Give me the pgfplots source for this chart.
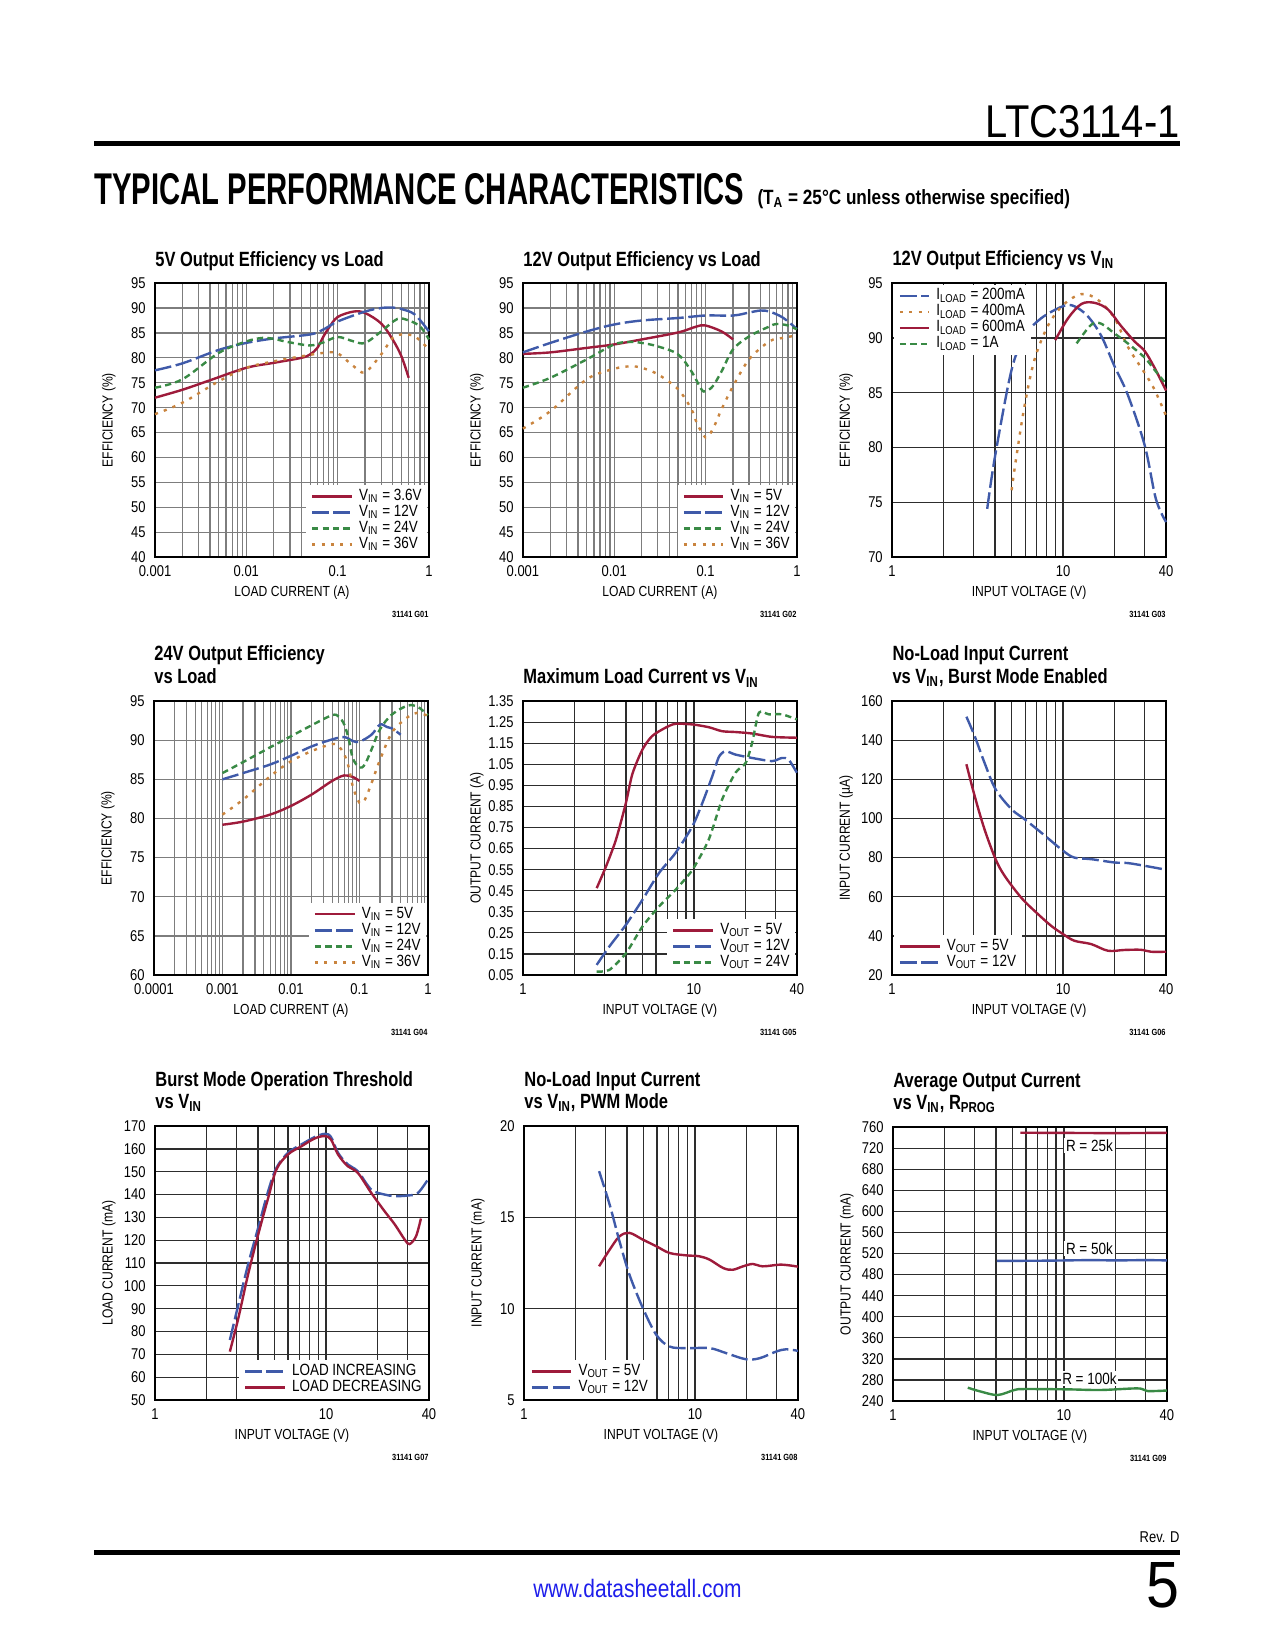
\documentclass[border=0pt]{standalone}
\usepackage{fontspec}
\usepackage{graphicx}
\usepackage{pgfplots}
\pgfplotsset{compat=1.18}
\setmainfont{Liberation Sans}[FakeStretch=0.83]
\newfontfamily\nf{Liberation Sans}[FakeStretch=0.83]
\newfontfamily\tf{Liberation Sans}[FakeStretch=0.8]
\newcommand\tk{\nf\fontsize{7bp}{8bp}\selectfont}
\newcommand\tkl{\nf\fontsize{7.5bp}{8.5bp}\selectfont}
\newcommand\lgf{\nf\fontsize{7.8bp}{8.5bp}\selectfont}
\newcommand\ttl{\tf\bfseries\fontsize{9.9bp}{11bp}\selectfont}
\newcommand\gf{\nf\bfseries\fontsize{4.3bp}{5bp}\selectfont}
\definecolor{cred}{RGB}{158,27,59}
\definecolor{cblue}{RGB}{63,90,169}
\definecolor{cgreen}{RGB}{57,138,69}
\definecolor{corange}{RGB}{201,132,62}
\definecolor{gridg}{RGB}{125,125,125}
\definecolor{gridk}{RGB}{45,45,45}
\definecolor{urlblue}{RGB}{30,30,235}
\tikzset{
 sred/.style={draw=cred, solid},
 sblue/.style={draw=cblue, dash pattern=on 8bp off 2.2bp},
 sgreen/.style={draw=cgreen, dash pattern=on 3bp off 2bp},
 sorange/.style={draw=corange, dash pattern=on 1.5bp off 3bp},
}
\pgfplotsset{
 ltc/.style={
  scale only axis, width=131.5bp, height=131.5bp,
  anchor=south west, clip=false,
  axis line style={line width=0.75bp, black},
  grid=both,
  major tick length=0pt, minor tick length=0pt,
  tick label style={font=\tkl},
  xticklabel style={yshift=-0.6bp},
  yticklabel style={xshift=-1bp},
  label style={font=\tk},
  xlabel style={at={(axis description cs:0.5,-0.13)},anchor=center},
  ylabel style={at={(axis description cs:-0.168,0.5)},anchor=center},
  legend cell align=left,
  legend style={draw=none, fill=white, font=\lgf, inner xsep=2.5bp, inner ysep=1.5bp,
     nodes={inner sep=0.3bp, text height=5.5bp, text depth=1.6bp}, row sep=0pt,
     /tikz/every odd column/.append style={column sep=2.6bp}},
  legend image code/.code={\draw[##1, line width=1.15bp] (0bp,0bp) -- (19bp,0bp);},
  every axis plot/.append style={line width=1.15bp, smooth, tension=0.55},
 },
 gg/.style={major grid style={line width=0.6bp, draw=gridg}, minor grid style={line width=0.6bp, draw=gridg}},
 gk/.style={major grid style={line width=0.6bp, draw=gridk}, minor grid style={line width=0.6bp, draw=gridk}},
}
\begin{document}
\begin{tikzpicture}
\path[use as bounding box, fill=white] (0,0) rectangle (612bp,-792bp);
% header
\node[anchor=base east, inner sep=0] at (566.4bp,-65.8bp) {\resizebox{93bp}{15.4bp}{\nf LTC3114-1}};
\fill[black] (45.1bp,-67.7bp) rectangle (566.4bp,-70.2bp);
\node[anchor=base west, inner sep=0] at (45.1bp,-98.3bp) {\resizebox{312bp}{14.9bp}{\nf\bfseries TYPICAL PERFORMANCE CHARACTERISTICS}};
\node[anchor=base west, inner sep=0] at (363.4bp,-98.3bp) {\resizebox{150bp}{!}{\nf\bfseries\fontsize{10bp}{12bp}\selectfont (T\textsubscript{A} = 25°C unless otherwise specified)}};
% footer
\node[anchor=base east, inner sep=0, font=\nf\fontsize{7.5bp}{9bp}\selectfont] at (566.4bp,-740.6bp) {Rev. D};
\fill[black] (45.1bp,-744bp) rectangle (566.4bp,-746.5bp);
\node[anchor=base, inner sep=0, text=urlblue] at (306bp,-766.6bp) {\resizebox{100bp}{!}{\nf\fontsize{12.5bp}{14bp}\selectfont www.datasheetall.com}};
\node[anchor=base east, inner sep=0] at (566.4bp,-771.8bp) {\resizebox{15.8bp}{21.6bp}{\nf 5}};

% ---------- P1
\begin{axis}[ltc, gg, at={(74.4bp,-267.4bp)},
 xmode=log, xmin=0.001, xmax=1, ymin=40, ymax=95,
 xtick={0.001,0.01,0.1,1}, xticklabels={0.001,0.01,0.1,1},
 minor xtick={0.002,0.003,0.004,0.005,0.006,0.007,0.008,0.009,0.02,0.03,0.04,0.05,0.06,0.07,0.08,0.09,0.2,0.3,0.4,0.5,0.6,0.7,0.8,0.9},
 xlabel={LOAD CURRENT (A)}, ylabel={EFFICIENCY (\%)},
 ytick={40,45,...,95}, yticklabels={40,45,50,55,60,65,70,75,80,85,90,95},
 legend style={at={(1,0)}, anchor=south east, xshift=-0.5bp, yshift=0.5bp}]
\addplot[sred] coordinates {(0.001,72.0) (0.002,73.6) (0.004,75.5) (0.01,78.0) (0.02,79.0) (0.04,80.0) (0.05,80.7) (0.06,82.0) (0.07,84.3) (0.08,86.0) (0.1,88.2) (0.15,89.3) (0.2,89.0) (0.3,86.9) (0.4,83.7) (0.5,80.3) (0.6,76.0)};
\addlegendentry{V\textsubscript{IN} = 3.6V}
\addplot[sblue] coordinates {(0.001,77.5) (0.002,78.9) (0.005,81.6) (0.01,83.0) (0.02,83.9) (0.05,84.7) (0.07,85.7) (0.1,87.3) (0.2,89.3) (0.3,90.0) (0.4,90.1) (0.5,89.8) (0.7,88.7) (1,85.3)};
\addlegendentry{V\textsubscript{IN} = 12V}
\addplot[sgreen] coordinates {(0.001,74.0) (0.002,75.7) (0.005,81.0) (0.01,83.3) (0.015,84.0) (0.02,83.8) (0.03,83.1) (0.05,82.5) (0.07,83.1) (0.1,84.2) (0.15,83.3) (0.2,83.0) (0.3,85.3) (0.45,87.8) (0.6,87.5) (0.8,86.3) (1,83.7)};
\addlegendentry{V\textsubscript{IN} = 24V}
\addplot[sorange] coordinates {(0.001,68.7) (0.002,71.0) (0.005,75.3) (0.01,78.0) (0.02,79.3) (0.04,80.3) (0.07,81.0) (0.1,80.9) (0.15,78.3) (0.2,77.1) (0.3,80.7) (0.4,84.0) (0.5,84.7) (0.7,84.3) (1,81.7)};
\addlegendentry{V\textsubscript{IN} = 36V}
\node[anchor=base west, inner sep=0, font=\ttl, yshift=7.8bp] at (rel axis cs:0,1) {5V Output Efficiency vs Load};
\node[anchor=base east, inner sep=0, font=\gf, yshift=-29bp] at (rel axis cs:1,0) {31141 G01};
\end{axis}

% ---------- P2
\begin{axis}[ltc, gg, at={(251bp,-267.4bp)},
 xmode=log, xmin=0.001, xmax=1, ymin=40, ymax=95,
 xtick={0.001,0.01,0.1,1}, xticklabels={0.001,0.01,0.1,1},
 minor xtick={0.002,0.003,0.004,0.005,0.006,0.007,0.008,0.009,0.02,0.03,0.04,0.05,0.06,0.07,0.08,0.09,0.2,0.3,0.4,0.5,0.6,0.7,0.8,0.9},
 xlabel={LOAD CURRENT (A)}, ylabel={EFFICIENCY (\%)},
 ytick={40,45,...,95}, yticklabels={40,45,50,55,60,65,70,75,80,85,90,95},
 legend style={at={(1,0)}, anchor=south east, xshift=-0.5bp, yshift=0.5bp}]
\addplot[sred] coordinates {(0.001,80.8) (0.002,81.1) (0.005,82.0) (0.01,82.7) (0.02,83.7) (0.05,85.1) (0.08,86.3) (0.1,86.5) (0.15,85.3) (0.2,83.7)};
\addlegendentry{V\textsubscript{IN} = 5V}
\addplot[sblue] coordinates {(0.001,81.1) (0.002,83.0) (0.005,85.3) (0.01,86.7) (0.02,87.5) (0.05,88.0) (0.1,88.5) (0.2,88.5) (0.3,89.1) (0.4,89.5) (0.5,89.3) (0.7,88.1) (1,85.8)};
\addlegendentry{V\textsubscript{IN} = 12V}
\addplot[sgreen] coordinates {(0.001,74.0) (0.002,76.0) (0.005,79.7) (0.01,82.7) (0.015,83.2) (0.02,83.0) (0.03,82.3) (0.05,80.7) (0.07,77.3) (0.09,73.7) (0.1,73.3) (0.12,74.3) (0.15,77.3) (0.2,81.7) (0.3,84.3) (0.5,86.3) (0.6,86.8) (0.8,86.5) (1,85.7)};
\addlegendentry{V\textsubscript{IN} = 24V}
\addplot[sorange] coordinates {(0.001,65.8) (0.002,69.3) (0.005,75.7) (0.01,77.8) (0.015,78.3) (0.02,78.0) (0.03,76.7) (0.05,73.7) (0.07,69.7) (0.08,67.0) (0.1,64.0) (0.12,65.7) (0.15,69.7) (0.2,74.3) (0.3,79.7) (0.5,83.3) (0.7,84.0) (1,84.5)};
\addlegendentry{V\textsubscript{IN} = 36V}
\node[anchor=base west, inner sep=0, font=\ttl, yshift=7.8bp] at (rel axis cs:0,1) {12V Output Efficiency vs Load};
\node[anchor=base east, inner sep=0, font=\gf, yshift=-29bp] at (rel axis cs:1,0) {31141 G02};
\end{axis}

% ---------- P3
\begin{axis}[ltc, gk, at={(428.2bp,-267.4bp)},
 xmode=log, xmin=1, xmax=40, xtick={1,10,40}, xticklabels={1,10,40},
 minor xtick={2,3,4,5,6,7,8,9,20,30}, xlabel={INPUT VOLTAGE (V)},
 ymin=70, ymax=95, ytick={70,75,...,95}, yticklabels={70,75,80,85,90,95}, ylabel={EFFICIENCY (\%)},
 legend image code/.code={\draw[#1, line width=1.15bp] (0bp,0bp) -- (14bp,0bp);},
 legend style={at={(0,1)}, anchor=north west, xshift=0.5bp, yshift=-0.5bp}]
\addplot[sblue] coordinates {(3.6,74.4) (4.0,79.2) (5.0,87.1) (6.0,90.2) (7.45,91.8) (10,92.9) (11.6,92.9) (13.9,92.0) (16.7,90.2) (20,87.4) (23.9,84.8) (30,80.2) (34.9,75.3) (40,73.2)};
\addlegendentry{I\textsubscript{LOAD} = 200mA}
\addplot[sorange] coordinates {(5.0,76.1) (5.3,78.9) (5.95,83.8) (6.8,88.0) (8.15,91.1) (10,93.0) (12.8,94.0) (15.9,93.5) (20,91.8) (23.9,89.2) (30,86.8) (34.2,85.3) (40,82.9)};
\addlegendentry{I\textsubscript{LOAD} = 400mA}
\addplot[sred] coordinates {(9,89.8) (10.7,91.8) (12.8,93.1) (15.3,93.2) (18.3,92.6) (21.8,91.1) (26.1,89.7) (30,88.8) (34.2,87.3) (40,85.2)};
\addlegendentry{I\textsubscript{LOAD} = 600mA}
\addplot[sgreen] coordinates {(12,89.5) (14.6,91.2) (16.7,91.3) (20,90.4) (23.9,89.5) (30,88.2) (34.2,87.1) (40,85.8)};
\addlegendentry{I\textsubscript{LOAD} = 1A}
\node[anchor=base west, inner sep=0, font=\ttl, yshift=8.4bp] at (rel axis cs:0,1) {12V Output Efficiency vs V\textsubscript{IN}};
\node[anchor=base east, inner sep=0, font=\gf, yshift=-29bp] at (rel axis cs:1,0) {31141 G03};
\end{axis}

% ---------- P4
\begin{axis}[ltc, gg, at={(73.9bp,-468bp)},
 xmode=log, xmin=0.0001, xmax=1, ymin=60, ymax=95,
 xtick={0.0001,0.001,0.01,0.1,1}, xticklabels={0.0001,0.001,0.01,0.1,1},
 minor xtick={0.0002,0.0003,0.0004,0.0005,0.0006,0.0007,0.0008,0.0009,0.002,0.003,0.004,0.005,0.006,0.007,0.008,0.009,0.02,0.03,0.04,0.05,0.06,0.07,0.08,0.09,0.2,0.3,0.4,0.5,0.6,0.7,0.8,0.9},
 ytick={60,65,...,95}, yticklabels={60,65,70,75,80,85,90,95},
 xlabel={LOAD CURRENT (A)}, ylabel={EFFICIENCY (\%)},
 legend style={at={(1,0)}, anchor=south east, xshift=-0.5bp, yshift=0.5bp}]
\addplot[sred] coordinates {(0.001,79.2) (0.002,79.6) (0.005,80.5) (0.01,81.6) (0.02,83.05) (0.04,84.8) (0.06,85.5) (0.08,85.3) (0.1,84.8)};
\addlegendentry{V\textsubscript{IN} = 5V}
\addplot[sblue] coordinates {(0.001,85.0) (0.002,85.8) (0.005,86.9) (0.01,88.0) (0.02,89.2) (0.04,90.1) (0.06,90.4) (0.08,89.9) (0.1,89.8) (0.15,90.7) (0.2,92.0) (0.25,91.7) (0.3,91.5) (0.4,90.7)};
\addlegendentry{V\textsubscript{IN} = 12V}
\addplot[sgreen] coordinates {(0.001,85.8) (0.002,87.2) (0.005,89.1) (0.01,90.5) (0.02,91.9) (0.04,93.2) (0.05,93.0) (0.06,92.0) (0.07,90.1) (0.08,87.7) (0.1,86.5) (0.12,86.9) (0.15,88.8) (0.2,91.4) (0.3,93.3) (0.5,94.4) (0.7,94.3) (1,93.2)};
\addlegendentry{V\textsubscript{IN} = 24V}
\addplot[sorange] coordinates {(0.001,80.5) (0.002,82.4) (0.005,85.4) (0.01,87.3) (0.02,88.6) (0.04,89.5) (0.05,89.2) (0.06,88.2) (0.07,86.5) (0.08,84.1) (0.1,82.0) (0.12,82.4) (0.15,84.5) (0.2,87.5) (0.3,91.0) (0.5,92.9) (0.7,93.5) (1,93.1)};
\addlegendentry{V\textsubscript{IN} = 36V}
\node[anchor=base west, inner sep=0, font=\ttl, yshift=19.7bp] at (rel axis cs:0,1) {24V Output Efficiency};
\node[anchor=base west, inner sep=0, font=\ttl, yshift=8.6bp] at (rel axis cs:0,1) {vs Load};
\node[anchor=base east, inner sep=0, font=\gf, yshift=-29bp] at (rel axis cs:1,0) {31141 G04};
\end{axis}

% ---------- P5
\begin{axis}[ltc, gk, at={(251bp,-468bp)},
 xmode=log, xmin=1, xmax=40, xtick={1,10,40}, xticklabels={1,10,40},
 minor xtick={2,3,4,5,6,7,8,9,20,30}, xlabel={INPUT VOLTAGE (V)},
 ymin=0.05, ymax=1.35,
 ytick={0.05,0.15,0.25,0.35,0.45,0.55,0.65,0.75,0.85,0.95,1.05,1.15,1.25,1.35},
 yticklabels={0.05,0.15,0.25,0.35,0.45,0.55,0.65,0.75,0.85,0.95,1.05,1.15,1.25,1.35},
 ylabel={OUTPUT CURRENT (A)},
 legend style={at={(1,0)}, anchor=south east, xshift=-0.5bp, yshift=0.5bp}]
\addplot[sred, tension=0.45] coordinates {(2.7,0.462) (3.06,0.565) (3.5,0.692) (4.0,0.866) (4.37,1.005) (5.0,1.12) (5.7,1.184) (6.8,1.223) (7.8,1.242) (9.8,1.239) (12.2,1.226) (14.6,1.207) (17.5,1.203) (21.9,1.196) (28.6,1.18) (40,1.176)};
\addlegendentry{V\textsubscript{OUT} = 5V}
\addplot[sblue, tension=0.45] coordinates {(2.7,0.098) (3.2,0.185) (4,0.288) (5,0.407) (6.25,0.534) (7.8,0.629) (9.8,0.756) (11.2,0.866) (12.8,0.993) (14,1.085) (15.3,1.112) (17.5,1.096) (21.9,1.08) (28.6,1.065) (32.7,1.08) (35.8,1.072) (40,1.01)};
\addlegendentry{V\textsubscript{OUT} = 12V}
\addplot[sgreen, tension=0.4] coordinates {(2.7,0.066) (3.2,0.074) (4,0.153) (5,0.28) (6.25,0.375) (7.8,0.454) (9.8,0.549) (12.2,0.692) (14.6,0.882) (17.5,1.01) (20.1,1.057) (21.9,1.152) (24,1.295) (27.4,1.287) (32.7,1.287) (40,1.263)};
\addlegendentry{V\textsubscript{OUT} = 24V}
\node[anchor=base west, inner sep=0, font=\ttl, yshift=8.2bp] at (rel axis cs:0,1) {Maximum Load Current vs V\textsubscript{IN}};
\node[anchor=base east, inner sep=0, font=\gf, yshift=-29bp] at (rel axis cs:1,0) {31141 G05};
\end{axis}

% ---------- P6
\begin{axis}[ltc, gk, at={(428.2bp,-468bp)},
 xmode=log, xmin=1, xmax=40, xtick={1,10,40}, xticklabels={1,10,40},
 minor xtick={2,3,4,5,6,7,8,9,20,30}, xlabel={INPUT VOLTAGE (V)},
 ymin=20, ymax=160, ytick={20,40,...,160}, yticklabels={20,40,60,80,100,120,140,160},
 ylabel={INPUT CURRENT (µA)},
 legend style={at={(0,0)}, anchor=south west, xshift=0.5bp, yshift=0.5bp}]
\addplot[sred] coordinates {(2.72,127.7) (3.04,111.5) (3.47,94.5) (4.03,79.2) (4.55,70.7) (5.68,59.6) (6.8,52.8) (8.5,45.2) (10,40.9) (11.65,37.5) (14.6,35.8) (18.3,32.4) (22.8,32.8) (28.5,32.9) (32.6,31.9) (40,31.9)};
\addlegendentry{V\textsubscript{OUT} = 5V}
\addplot[sblue] coordinates {(2.72,152) (3.04,142.1) (3.47,128.5) (4.03,114.9) (5,104.7) (5.96,99.6) (7.44,92.8) (10,83.5) (11.65,80) (14.6,79.2) (20,77.5) (23.9,77.2) (30,75.8) (40,73.8)};
\addlegendentry{V\textsubscript{OUT} = 12V}
\node[anchor=base west, inner sep=0, font=\ttl, yshift=19.7bp] at (rel axis cs:0,1) {No-Load Input Current};
\node[anchor=base west, inner sep=0, font=\ttl, yshift=8.6bp] at (rel axis cs:0,1) {vs V\textsubscript{IN}, Burst Mode Enabled};
\node[anchor=base east, inner sep=0, font=\gf, yshift=-29bp] at (rel axis cs:1,0) {31141 G06};
\end{axis}

% ---------- P7
\begin{axis}[ltc, gk, at={(74.4bp,-672bp)},
 xmode=log, xmin=1, xmax=40, xtick={1,10,40}, xticklabels={1,10,40},
 minor xtick={2,3,4,5,6,7,8,9,20,30}, xlabel={INPUT VOLTAGE (V)},
 ymin=50, ymax=170, ytick={50,60,...,170}, yticklabels={50,60,70,80,90,100,110,120,130,140,150,160,170},
 ylabel={LOAD CURRENT (mA)},
 legend style={at={(1,0)}, anchor=south east, xshift=-0.5bp, yshift=0.5bp}]
\addplot[sblue] coordinates {(2.74,76.3) (3.07,91.7) (3.5,109.3) (4.01,125.4) (4.59,141.5) (5.13,151.7) (6.0,158.3) (7.2,162) (8.6,165.2) (9.85,166.6) (10.7,165.2) (11.75,158.3) (13.4,153.2) (15.35,150.2) (18.4,142.2) (22,140) (25.3,139.3) (30.2,139.6) (34.5,140.7) (40,147.3)};
\addlegendentry{LOAD INCREASING}
\addplot[sred] coordinates {(2.74,71.2) (3.07,85.8) (3.5,104.9) (4.01,122.4) (4.59,138.5) (5.13,151) (6.0,157.6) (7.2,161.2) (8.6,164.6) (9.85,165.6) (10.7,164.1) (11.75,157.6) (13.4,152.4) (15.35,149.5) (18.4,140.7) (22,132.7) (25.3,126.8) (28.9,120.2) (30.8,118.3) (33.6,121.7) (35.9,129.5)};
\addlegendentry{LOAD DECREASING}
\node[anchor=base west, inner sep=0, font=\ttl, yshift=19.2bp] at (rel axis cs:0,1) {Burst Mode Operation Threshold};
\node[anchor=base west, inner sep=0, font=\ttl, yshift=8.6bp] at (rel axis cs:0,1) {vs V\textsubscript{IN}};
\node[anchor=base east, inner sep=0, font=\gf, yshift=-29bp] at (rel axis cs:1,0) {31141 G07};
\end{axis}

% ---------- P8
\begin{axis}[ltc, gk, at={(251.5bp,-672bp)},
 xmode=log, xmin=1, xmax=40, xtick={1,10,40}, xticklabels={1,10,40},
 minor xtick={2,3,4,5,6,7,8,9,20,30}, xlabel={INPUT VOLTAGE (V)},
 ymin=5, ymax=20, ytick={5,10,15,20}, yticklabels={5,10,15,20},
 ylabel={INPUT CURRENT (mA)},
 legend style={at={(0,0)}, anchor=south west, xshift=0.5bp, yshift=0.5bp}]
\addplot[sred] coordinates {(2.75,12.32) (3.17,13.23) (3.62,13.96) (4.14,14.15) (4.96,13.78) (5.94,13.42) (7.1,13.05) (8.9,12.92) (10.6,12.87) (12.2,12.68) (14.6,12.23) (16.6,12.13) (19.1,12.32) (21.8,12.45) (24.9,12.32) (31.2,12.41) (35.8,12.37) (40,12.3)};
\addlegendentry{V\textsubscript{OUT} = 5V}
\addplot[sblue] coordinates {(2.75,17.53) (3.17,15.7) (3.62,13.69) (4.14,11.86) (4.96,10.03) (5.94,8.57) (7.1,7.93) (8.9,7.84) (12.2,7.84) (15.3,7.56) (19.9,7.23) (23.9,7.29) (29.8,7.65) (34.2,7.78) (40,7.69)};
\addlegendentry{V\textsubscript{OUT} = 12V}
\node[anchor=base west, inner sep=0, font=\ttl, yshift=19.2bp] at (rel axis cs:0,1) {No-Load Input Current};
\node[anchor=base west, inner sep=0, font=\ttl, yshift=8.6bp] at (rel axis cs:0,1) {vs V\textsubscript{IN}, PWM Mode};
\node[anchor=base east, inner sep=0, font=\gf, yshift=-29bp] at (rel axis cs:1,0) {31141 G08};
\end{axis}

% ---------- P9
\begin{axis}[ltc, gk, at={(428.6bp,-672.5bp)},
 xmode=log, xmin=1, xmax=40, xtick={1,10,40}, xticklabels={1,10,40},
 minor xtick={2,3,4,5,6,7,8,9,20,30}, xlabel={INPUT VOLTAGE (V)},
 ymin=240, ymax=760, ytick={240,280,...,760}, yticklabels={240,280,320,360,400,440,480,520,560,600,640,680,720,760},
 ylabel={OUTPUT CURRENT (mA)}]
\addplot[draw=cred, solid] coordinates {(5.57,749.3) (10,749) (20,748.6) (40,749.2)};
\addplot[draw=cblue, solid] coordinates {(4.05,506) (8,506.5) (14,507.5) (20,507) (30,507.5) (40,507)};
\addplot[draw=cgreen, solid] coordinates {(2.74,265.4) (3.28,257.8) (4.1,251.5) (5.13,261) (5.86,262.8) (10.5,262.2) (16.4,261) (27,264) (30.8,259) (40,260)};
\node[fill=white, inner sep=0.8bp, font=\lgf] at (axis cs:14.1,725) {R = 25k};
\node[fill=white, inner sep=0.8bp, font=\lgf] at (axis cs:14.1,529) {R = 50k};
\node[fill=white, inner sep=0.8bp, font=\lgf] at (axis cs:14.1,283) {R = 100k};
\node[anchor=base west, inner sep=0, font=\ttl, yshift=19.2bp] at (rel axis cs:0,1) {Average Output Current};
\node[anchor=base west, inner sep=0, font=\ttl, yshift=8.6bp] at (rel axis cs:0,1) {vs V\textsubscript{IN}, R\textsubscript{PROG}};
\node[anchor=base east, inner sep=0, font=\gf, yshift=-29bp] at (rel axis cs:1,0) {31141 G09};
\end{axis}
\end{tikzpicture}
\end{document}
